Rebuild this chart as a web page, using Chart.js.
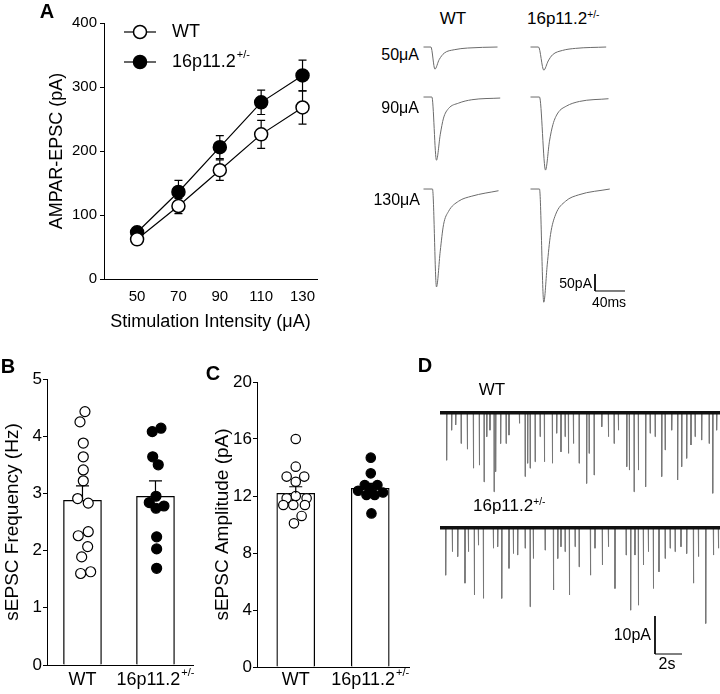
<!DOCTYPE html>
<html>
<head>
<meta charset="utf-8">
<script src="https://cdn.jsdelivr.net/npm/chart.js@4/dist/chart.umd.min.js"></script>
<style>
  body { margin: 0; background: #fff; }
  #fig { position: relative; width: 720px; height: 694px; overflow: hidden; background: #fff;
         font-family: "Liberation Sans", Arial, sans-serif; color: #000; }
  #fig canvas { position: absolute; }
  .t { position: absolute; white-space: nowrap; line-height: 1; }
  .c { transform: translate(-50%, -50%); }
  .r { transform: translate(-100%, -50%); }
  .l { transform: translate(0, -50%); }
  .pl { font-weight: bold; font-size: 20px; }
  sup { font-size: 0.6em; vertical-align: 0.55em; line-height: 0; }
</style>
</head>
<body>
<div id="fig">
  <canvas id="epscChart" width="340" height="340" style="left:0;top:0"></canvas>
  <canvas id="trWt50" width="90" height="120" style="left:422px;top:46px"></canvas>
  <canvas id="trKo50" width="90" height="120" style="left:529px;top:46px"></canvas>
  <canvas id="trWt90" width="90" height="120" style="left:422px;top:96px"></canvas>
  <canvas id="trKo90" width="90" height="120" style="left:529px;top:96px"></canvas>
  <canvas id="trWt130" width="90" height="120" style="left:422px;top:188px"></canvas>
  <canvas id="trKo130" width="90" height="120" style="left:529px;top:188px"></canvas>
  <canvas id="barA" width="34" height="21" style="left:593px;top:272px"></canvas>
  <canvas id="freqChart" width="200" height="334" style="left:0;top:360px"></canvas>
  <canvas id="ampChart" width="210" height="334" style="left:210px;top:360px"></canvas>
  <canvas id="sWt" width="280" height="92" style="left:440px;top:408px"></canvas>
  <canvas id="sKo" width="280" height="105" style="left:440px;top:523px"></canvas>
  <canvas id="barD" width="32" height="42" style="left:653px;top:614px"></canvas>

  <div class="t c pl" style="left:47px;top:11px">A</div>
  <div class="t c pl" style="left:8px;top:366px">B</div>
  <div class="t c pl" style="left:213px;top:373px">C</div>
  <div class="t c pl" style="left:425px;top:365px">D</div>

  <div class="t c" style="left:453px;top:18px;font-size:17px">WT</div>
  <div class="t l" style="left:527px;top:18px;font-size:17px">16p11.2<sup>+/-</sup></div>
  <div class="t r" style="left:419px;top:55px;font-size:16px">50μA</div>
  <div class="t r" style="left:419px;top:108px;font-size:16px">90μA</div>
  <div class="t r" style="left:420px;top:200px;font-size:16px">130μA</div>
  <div class="t r" style="left:592px;top:283px;font-size:14px">50pA</div>
  <div class="t c" style="left:609px;top:302px;font-size:14px">40ms</div>

  <div class="t c" style="left:492px;top:389px;font-size:17px">WT</div>
  <div class="t l" style="left:473px;top:505px;font-size:17px">16p11.2<sup>+/-</sup></div>
  <div class="t r" style="left:651px;top:635px;font-size:16px">10pA</div>
  <div class="t c" style="left:667px;top:664px;font-size:16px">2s</div>
</div>
<script>
// A: AMPAR-EPSC input/output
const stimIntensity = [50, 70, 90, 110, 130];
const wtEpsc = [62, 114, 170, 226, 268];
const wtEpscSem = [6, 12, 16, 22, 26];
const koEpsc = [73, 136, 206, 276, 318];
const koEpscSem = [6, 18, 18, 19, 24];

// A: example traces (ms, pA)
const wt50T = [0, 9.9, 15.2, 20.9, 27.6, 40.9, 58.7, 98.7];
const wt50I = [0, 0, -65, -37, -18, -8, -3, 0];
const ko50T = [0, 10.7, 17.7, 23.6, 29.3, 42.7, 60, 100.9];
const ko50I = [0, 0, -68, -41, -23, -10, -4, 0];
const wt90T = [0, 11.2, 17.3, 22.3, 26.7, 33.3, 46.7, 64.4, 102.3];
const wt90I = [0, 0, -186, -111, -62, -34, -18, -8, -3];
const ko90T = [0, 12, 20, 25.3, 29.9, 36.5, 47.6, 65.3, 104];
const ko90I = [0, 0, -215, -130, -81, -47, -27, -13, -5];
const wt130T = [0, 12, 17.3, 22.3, 26.7, 33.3, 46.7, 64.4, 100];
const wt130I = [0, 0, -288, -183, -105, -66, -36, -21, -5];
const ko130T = [0, 12, 17.7, 22.3, 26.7, 33.3, 46.7, 64.4, 105.7];
const ko130I = [0, 0, -333, -223, -134, -76, -36, -17, 0];
const scaleA = { pA: 50, ms: 40 };

// B: sEPSC frequency (Hz)
const groups = ["WT", "16p11.2+/-"];
const freqMean = [2.88, 2.95];
const freqSem = [0.25, 0.27];
const wtFreq = [4.43, 4.25, 3.88, 3.64, 3.41, 3.22, 2.91, 2.83, 2.33, 2.26, 2.07, 1.89, 1.63, 1.60];
const wtFreqJit = [0.034, -0.034, 0.011, 0.011, 0.011, 0.011, -0.066, 0.079, 0.079, -0.058, 0.071, -0.011, 0.112, -0.025];
const koFreq = [4.14, 4.08, 3.64, 3.50, 2.95, 2.84, 2.78, 2.74, 2.24, 2.03, 1.69];
const koFreqJit = [0.075, -0.044, -0.038, 0.038, 0.007, -0.085, 0.116, 0.007, 0.016, 0.016, 0.016];

// C: sEPSC amplitude (pA)
const ampMean = [12.19, 12.54];
const ampSem = [0.46, 0.35];
const wtAmp = [16.0, 14.06, 13.36, 13.36, 13.0, 12.0, 11.84, 11.84, 11.37, 11.37, 11.37, 10.6, 10.08];
const wtAmpJit = [0, 0, -0.122, 0.114, 0, 0, -0.122, 0.146, -0.167, -0.033, 0.123, 0.079, -0.024];
const koAmp = [14.69, 13.59, 12.77, 12.77, 12.37, 12.25, 12.07, 12.07, 12.5, 10.78];
const koAmpJit = [0.007, 0.007, -0.074, 0.096, -0.163, 0.171, -0.051, 0.06, 0, 0.016];

// D: spontaneous events (time s, amplitude pA)
const wtEventT = [0.49, 0.86, 1.16, 1.56, 2.02, 2.47, 2.91, 3.26, 3.46, 3.70, 4.00, 4.12, 4.49, 4.89, 5.11, 5.88, 6.30, 6.49, 6.67, 7.04, 7.41, 7.73, 8.32, 8.64, 8.96, 9.26, 9.51, 9.88, 10.30, 10.86, 11.04, 11.41, 11.98, 12.47, 12.89, 13.21, 13.83, 14.02, 14.37, 14.69, 15.23, 15.56, 15.93, 16.42, 16.67, 17.16, 17.60, 17.90, 18.27, 18.59, 18.89, 19.38, 19.93, 20.20, 20.49];
const wtEventA = [12.5, 4.6, 3.2, 8.1, 9.6, 14.6, 13.8, 18.2, 6.3, 4.6, 20.8, 15.5, 8.1, 8.1, 5.9, 2.8, 16.8, 13.3, 14.6, 12.9, 6.3, 12.9, 13.3, 5.4, 10.3, 6.3, 10.7, 8.1, 13.3, 18.6, 10.7, 16.4, 3.7, 6.3, 8.1, 4.6, 14.2, 15.1, 20.8, 15.1, 19.5, 5.4, 6.3, 16.8, 9.8, 4.6, 17.7, 14.2, 12.0, 8.5, 6.3, 7.2, 8.1, 21.2, 4.6];
const koEventT = [0.42, 0.91, 1.31, 1.85, 2.10, 2.54, 2.84, 3.21, 3.95, 4.27, 4.57, 5.11, 5.43, 5.75, 6.30, 6.67, 6.91, 7.78, 8.40, 8.72, 8.96, 9.26, 9.58, 10.00, 10.30, 11.14, 11.48, 12.02, 12.47, 12.96, 13.78, 14.12, 14.44, 14.69, 15.06, 15.43, 15.80, 16.22, 16.67, 17.04, 17.41, 17.85, 18.27, 18.77, 19.14, 19.68, 20.25, 20.62];
const koEventA = [12.5, 6.3, 7.6, 14.6, 6.3, 17.7, 4.6, 18.6, 5.4, 5.0, 18.6, 10.7, 6.8, 7.2, 5.4, 20.8, 8.1, 5.9, 16.4, 8.1, 5.0, 6.3, 17.7, 5.0, 10.3, 12.5, 5.4, 9.8, 5.0, 16.0, 7.2, 21.7, 7.2, 20.4, 9.8, 6.3, 16.0, 11.6, 8.1, 5.4, 6.3, 5.0, 6.8, 14.6, 7.6, 25.2, 7.2, 5.4];
const recordLen = 20.74;
const scaleD = { pA: 10, s: 2 };

const FONT = '"Liberation Sans", Arial, sans-serif';
Chart.defaults.font.family = FONT;
Chart.defaults.color = "#000";

const xy = (xs, ys) => xs.map((x, i) => ({ x, y: ys[i] }));

// text with a trailing "+/-" drawn as superscript
function drawLabel(ctx, text, x, y, size, align) {
  const sup = text.endsWith("+/-") ? "+/-" : "";
  const base = sup ? text.slice(0, -3) : text;
  const supSize = Math.round(size * 0.6);
  ctx.save();
  ctx.fillStyle = "#000";
  ctx.textBaseline = "middle";
  ctx.textAlign = "left";
  ctx.font = size + "px " + FONT;
  const bw = ctx.measureText(base).width;
  ctx.font = supSize + "px " + FONT;
  const sw = sup ? ctx.measureText(sup).width + 1 : 0;
  const x0 = align === "center" ? x - (bw + sw) / 2 : x;
  ctx.font = size + "px " + FONT;
  ctx.fillText(base, x0, y);
  if (sup) {
    ctx.font = supSize + "px " + FONT;
    ctx.fillText(sup, x0 + bw + 1, y - size * 0.38);
  }
  ctx.restore();
}

function drawErrors(chart) {
  const { ctx, scales: { x, y } } = chart;
  ctx.save();
  ctx.strokeStyle = "#000";
  ctx.lineWidth = 1.2;
  chart.data.datasets.forEach(ds => {
    if (!ds.sem) return;
    ds.data.forEach((p, i) => {
      const px = x.getPixelForValue(p.x);
      const top = y.getPixelForValue(p.y + ds.sem[i]);
      const bot = y.getPixelForValue(ds.upOnly ? p.y : p.y - ds.sem[i]);
      const cap = ds.capHalf || 4;
      ctx.beginPath();
      ctx.moveTo(px, top); ctx.lineTo(px, bot);
      ctx.moveTo(px - cap, top); ctx.lineTo(px + cap, top);
      if (!ds.upOnly) { ctx.moveTo(px - cap, bot); ctx.lineTo(px + cap, bot); }
      ctx.stroke();
    });
  });
  ctx.restore();
}

const errorBars = {
  id: "errorBars",
  beforeDatasetsDraw(chart, args, opts) { if (!opts.onTop) drawErrors(chart); },
  afterDatasetsDraw(chart, args, opts) { if (opts.onTop) drawErrors(chart); }
};

const lineLegend = {
  id: "lineLegend",
  afterDraw(chart) {
    const ctx = chart.ctx;
    chart.data.datasets.forEach((ds, i) => {
      const y = 32 + i * 30;
      ctx.save();
      ctx.strokeStyle = "#000";
      ctx.lineWidth = 1.2;
      ctx.beginPath(); ctx.moveTo(124, y); ctx.lineTo(156, y); ctx.stroke();
      ctx.lineWidth = 1.5;
      ctx.fillStyle = ds.pointBackgroundColor;
      ctx.beginPath(); ctx.arc(140, y, 6.5, 0, Math.PI * 2); ctx.fill(); ctx.stroke();
      ctx.restore();
      drawLabel(ctx, ds.label, 172, y, 18, "left");
    });
  }
};

const groupLabels = {
  id: "groupLabels",
  afterDraw(chart) {
    const x = chart.scales.x;
    groups.forEach((g, i) => drawLabel(chart.ctx, g, x.getPixelForValue(i + 1), 320, 18, "center"));
  }
};

// ---- A: input/output curve
new Chart(document.getElementById("epscChart"), {
  type: "line",
  data: {
    datasets: [
      { label: "WT", data: xy(stimIntensity, wtEpsc), sem: wtEpscSem, borderColor: "#000", borderWidth: 1.2,
        pointRadius: 6.5, pointBackgroundColor: "#fff", pointBorderColor: "#000", pointBorderWidth: 1.5 },
      { label: "16p11.2+/-", data: xy(stimIntensity, koEpsc), sem: koEpscSem, borderColor: "#000", borderWidth: 1.2,
        pointRadius: 6.5, pointBackgroundColor: "#000", pointBorderColor: "#000", pointBorderWidth: 1.5 }
    ]
  },
  options: {
    responsive: false, animation: false, events: [],
    layout: { padding: { left: 0, top: 23, right: 23, bottom: 0 } },
    plugins: { legend: { display: false }, tooltip: { enabled: false }, errorBars: { onTop: false } },
    scales: {
      x: {
        type: "linear", min: 34, max: 137,
        afterBuildTicks: s => { s.ticks = stimIntensity.map(v => ({ value: v })); },
        afterFit: s => { s.height = 61; },
        grid: { display: false, tickLength: 6 },
        border: { display: true, color: "#000", width: 1 },
        ticks: { font: { size: 15 }, padding: 3, maxRotation: 0 },
        title: { display: true, text: "Stimulation Intensity (μA)", font: { size: 18 }, padding: { top: 0, bottom: 7 } }
      },
      y: {
        min: 0, max: 400,
        afterFit: s => { s.width = 104; },
        grid: { display: true, drawOnChartArea: false, drawTicks: true, tickLength: 4, color: "#000" },
        border: { display: true, color: "#000", width: 1 },
        ticks: { stepSize: 100, font: { size: 15 }, padding: 3 },
        title: { display: true, text: "AMPAR-EPSC (pA)", font: { size: 18 }, padding: { top: 46, bottom: 0 } }
      }
    }
  },
  plugins: [errorBars, lineLegend]
});

// ---- trace helper
function traceChart(id, datasets, xr, yr) {
  return new Chart(document.getElementById(id), {
    type: "line",
    data: { datasets },
    options: {
      responsive: false, animation: false, events: [],
      layout: { padding: 0 },
      plugins: { legend: { display: false }, tooltip: { enabled: false } },
      elements: { point: { radius: 0 } },
      scales: {
        x: { type: "linear", display: false, min: xr[0], max: xr[1] },
        y: { type: "linear", display: false, min: yr[0], max: yr[1] }
      }
    }
  });
}

const epscStyle = { borderColor: "#6b6b6b", borderWidth: 1, clip: false, cubicInterpolationMode: "monotone" };
const trX = [-2, 118], trY = [-350, 3];
traceChart("trWt50", [{ ...epscStyle, data: xy(wt50T, wt50I) }], trX, trY);
traceChart("trKo50", [{ ...epscStyle, data: xy(ko50T, ko50I) }], trX, trY);
traceChart("trWt90", [{ ...epscStyle, data: xy(wt90T, wt90I) }], trX, trY);
traceChart("trKo90", [{ ...epscStyle, data: xy(ko90T, ko90I) }], trX, trY);
traceChart("trWt130", [{ ...epscStyle, data: xy(wt130T, wt130I) }], trX, trY);
traceChart("trKo130", [{ ...epscStyle, data: xy(ko130T, ko130I) }], trX, trY);
traceChart("barA", [{ data: [{ x: 0, y: scaleA.pA }, { x: 0, y: 0 }, { x: scaleA.ms, y: 0 }],
  borderColor: "#000", borderWidth: 1, clip: false }], [-2.67, 42.67], [-5.9, 55.9]);

// ---- B & C: bar + scatter
function barScatter(id, mean, sem, wtVals, wtJit, koVals, koJit, yMax, yStep, title, xr, pad, xH, r) {
  return new Chart(document.getElementById(id), {
    type: "bar",
    data: {
      datasets: [
        { type: "scatter", order: 1, data: wtVals.map((v, i) => ({ x: 1 + wtJit[i], y: v })),
          pointRadius: r, pointBackgroundColor: "#fff", pointBorderColor: "#000", pointBorderWidth: 1.2 },
        { type: "scatter", order: 1, data: koVals.map((v, i) => ({ x: 2 + koJit[i], y: v })),
          pointRadius: r, pointBackgroundColor: "#000", pointBorderColor: "#000", pointBorderWidth: 1.2 },
        { type: "bar", order: 2, data: mean.map((m, i) => ({ x: i + 1, y: m })), sem, upOnly: true, capHalf: 6.5,
          backgroundColor: "#fff", borderColor: "#000", borderWidth: 1.3, barThickness: 38 }
      ]
    },
    options: {
      responsive: false, animation: false, events: [],
      layout: { padding: pad },
      plugins: { legend: { display: false }, tooltip: { enabled: false }, errorBars: { onTop: true } },
      scales: {
        x: {
          type: "linear", min: xr[0], max: xr[1], offset: false,
          afterFit: s => { s.height = xH; },
          grid: { display: false },
          border: { display: true, color: "#000", width: 1 },
          ticks: { display: false }
        },
        y: {
          min: 0, max: yMax,
          afterFit: s => { s.width = 47; },
          grid: { display: true, drawOnChartArea: false, drawTicks: true, tickLength: 4, color: "#000" },
          border: { display: true, color: "#000", width: 1 },
          ticks: { stepSize: yStep, font: { size: 17 }, padding: 1 },
          title: { display: true, text: title, font: { size: 19 }, padding: { top: 1, bottom: 0 } }
        }
      }
    },
    plugins: [errorBars, groupLabels]
  });
}

barScatter("freqChart", freqMean, freqSem, wtFreq, wtFreqJit, koFreq, koFreqJit, 5, 1,
  "sEPSC Frequency (Hz)", [0.514, 2.514], { left: 0, top: 19, right: 7, bottom: 0 }, 29, 5);
barScatter("ampChart", ampMean, ampSem, wtAmp, wtAmpJit, koAmp, koAmpJit, 20, 4,
  "sEPSC Amplitude (pA)", [0.48, 2.52], { left: 0, top: 22, right: 11, bottom: 0 }, 27, 4.7);

// ---- D: spontaneous traces
function spikes(ts, amps) {
  const pts = [];
  ts.forEach((t, i) => { pts.push({ x: t - 0.01, y: 0 }, { x: t, y: -amps[i] }, { x: t + 0.03, y: 0 }); });
  return pts;
}
const baseline = [{ x: 0, y: 0 }, { x: recordLen, y: 0 }];
traceChart("sWt", [
  { data: spikes(wtEventT, wtEventA), borderColor: "#777", borderWidth: 1, clip: false, order: 2 },
  { data: baseline, borderColor: "#111", borderWidth: 3.5, clip: false, order: 1 }
], [0, recordLen], [-22.97, 1.237]);
traceChart("sKo", [
  { data: spikes(koEventT, koEventA), borderColor: "#777", borderWidth: 1, clip: false, order: 2 },
  { data: baseline, borderColor: "#111", borderWidth: 3.5, clip: false, order: 1 }
], [0, recordLen], [-26.4, 1.237]);
traceChart("barD", [{ data: [{ x: 0, y: scaleD.pA }, { x: 0, y: 0 }, { x: scaleD.s, y: 0 }],
  borderColor: "#000", borderWidth: 1, clip: false }], [-0.148, 2.222], [-0.526, 10.526]);
</script>
</body>
</html>
